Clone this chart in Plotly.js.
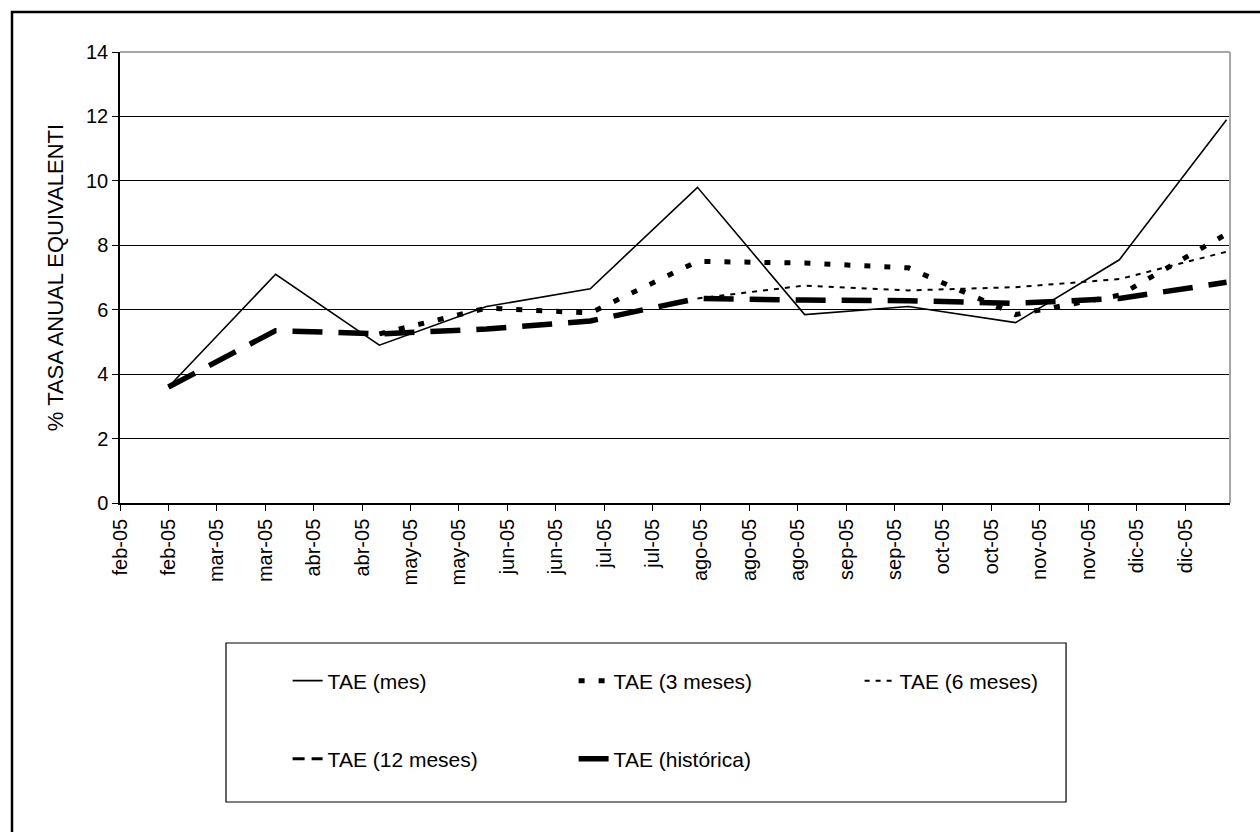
<!DOCTYPE html>
<html>
<head>
<meta charset="utf-8">
<script src="https://cdn.plot.ly/plotly-3.0.1.min.js"></script>
<style>
  html, body { margin: 0; padding: 0; background: #ffffff; }
  #chart { width: 1260px; height: 832px; }
</style>
</head>
<body>
<div id="chart"></div>
<script>
// Month-end observation dates (2005)
const fechas = ['2005-02-28','2005-03-31','2005-04-30','2005-05-31','2005-06-30','2005-07-31',
                '2005-08-31','2005-09-30','2005-10-31','2005-11-30','2005-12-31'];

// Series values (% TAE) (null = not yet available)
const taeMes       = [3.6, 7.1, 4.9, 6.1, 6.65, 9.8, 5.85, 6.1, 5.6, 7.55, 11.9];
const tae3Meses    = [null, null, 5.25, 6.05, 5.9, 7.5, 7.45, 7.3, 5.85, 6.45, 8.35];
const tae6Meses    = [null, null, null, null, null, 6.35, 6.75, 6.6, 6.7, 6.95, 7.8];
const tae12Meses   = [null, null, null, null, null, null, null, null, null, null, null];
const taeHistorica = [3.6, 5.35, 5.25, 5.4, 5.65, 6.35, 6.3, 6.28, 6.2, 6.35, 6.85];

// Date axis ticks
const tickFechas = ['2005-02-14','2005-02-28','2005-03-14','2005-03-28','2005-04-11','2005-04-25',
                    '2005-05-09','2005-05-23','2005-06-06','2005-06-20','2005-07-04','2005-07-18',
                    '2005-08-01','2005-08-15','2005-08-29','2005-09-12','2005-09-26','2005-10-10',
                    '2005-10-24','2005-11-07','2005-11-21','2005-12-05','2005-12-19'];
const tickTextos = ['feb-05','feb-05','mar-05','mar-05','abr-05','abr-05','may-05','may-05',
                    'jun-05','jun-05','jul-05','jul-05','ago-05','ago-05','ago-05','sep-05',
                    'sep-05','oct-05','oct-05','nov-05','nov-05','dic-05','dic-05'];
const yTicks = [0, 2, 4, 6, 8, 10, 12, 14];

const FONT = 'Liberation Sans, Arial, sans-serif';

const traces = [
  { name: 'TAE (mes)', x: fechas, y: taeMes, legend: 'legend',
    line: { color: '#000000', width: 1.6, dash: 'solid' } },
  { name: 'TAE (3 meses)', x: fechas, y: tae3Meses, legend: 'legend',
    line: { color: '#000000', width: 5, dash: '6px,14px' } },
  { name: 'TAE (6 meses)', x: fechas, y: tae6Meses, legend: 'legend',
    line: { color: '#000000', width: 2, dash: '5px,6px' } },
  { name: 'TAE (12 meses)', x: fechas, y: tae12Meses, legend: 'legend2',
    line: { color: '#000000', width: 3, dash: '12px,7px' } },
  { name: 'TAE (histórica)', x: fechas, y: taeHistorica, legend: 'legend2',
    line: { color: '#000000', width: 5.5, dash: '30px,16px' } }
].map(t => Object.assign({ type: 'scatter', mode: 'lines', hoverinfo: 'x+y+name' }, t));

const legendCommon = {
  orientation: 'h', xref: 'paper', yref: 'paper', x: 0.151, xanchor: 'left', yanchor: 'middle',
  entrywidth: 241, entrywidthmode: 'pixels', borderwidth: 0, bgcolor: 'rgba(0,0,0,0)',
  font: { family: FONT, size: 21, color: '#000000' }
};

const layout = {
  width: 1260, height: 832,
  margin: { l: 120, r: 30, t: 52, b: 329, pad: 0 },
  paper_bgcolor: '#ffffff', plot_bgcolor: '#ffffff',
  font: { family: FONT, color: '#000000' },
  showlegend: true,
  legend: Object.assign({}, legendCommon, { y: -0.3947 }),
  legend2: Object.assign({}, legendCommon, { y: -0.5676 }),
  xaxis: {
    type: 'date', range: ['2005-02-14', '2006-01-01'],
    tickmode: 'array', tickvals: tickFechas, ticktext: tickTextos, tickangle: -90,
    ticks: 'outside', ticklen: 6, tickcolor: '#000000', tickwidth: 1,
    showline: true, linecolor: '#000000', linewidth: 1.5, showgrid: false, zeroline: false,
    tickfont: { family: FONT, size: 20, color: '#000000' }, automargin: false
  },
  yaxis: {
    range: [0, 14], tickmode: 'array', tickvals: yTicks,
    ticks: 'outside', ticklen: 6, tickcolor: '#000000', tickwidth: 1,
    showline: true, linecolor: '#000000', linewidth: 1.5,
    showgrid: true, gridcolor: '#000000', gridwidth: 1, zeroline: false,
    tickfont: { family: FONT, size: 20, color: '#000000' },
    title: { text: '% TASA ANUAL EQUIVALENTI', font: { family: FONT, size: 22, color: '#000000' }, standoff: 16 },
    automargin: false
  },
  shapes: [
    // plot-area border (top and right, grey)
    { type: 'line', xref: 'paper', yref: 'paper', x0: 0, x1: 1, y0: 1, y1: 1, layer: 'above',
      line: { color: '#a6a6a6', width: 2 } },
    { type: 'line', xref: 'paper', yref: 'paper', x0: 1, x1: 1, y0: 0, y1: 1, layer: 'above',
      line: { color: '#a6a6a6', width: 2 } },
    // legend box
    { type: 'rect', xref: 'paper', yref: 'paper', x0: 0.0955, x1: 0.8523, y0: -0.663, y1: -0.3104,
      layer: 'below', line: { color: '#000000', width: 1.2 }, fillcolor: 'rgba(0,0,0,0)' },
    // chart-area outer border
    { type: 'rect', xref: 'paper', yref: 'paper', x0: -0.0973, x1: 1.08, y0: -0.80, y1: 1.0887,
      layer: 'below', line: { color: '#000000', width: 2.5 }, fillcolor: 'rgba(0,0,0,0)' }
  ]
};

Plotly.newPlot('chart', traces, layout, { displayModeBar: false, responsive: false });
</script>
</body>
</html>
